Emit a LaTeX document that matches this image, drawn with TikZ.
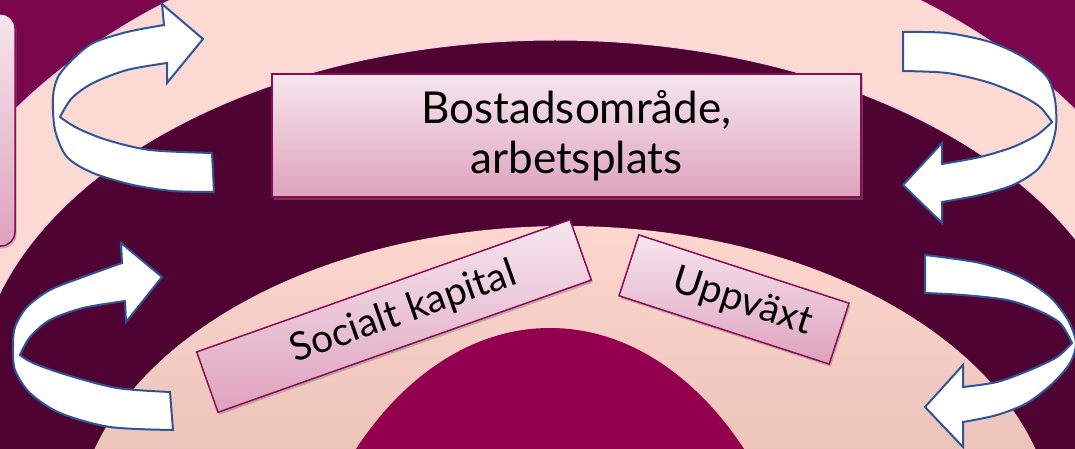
\documentclass[tikz,border=0pt]{standalone}
\usepackage{fontspec}
\setmainfont{Lato}
\usetikzlibrary{shadows}

\definecolor{cornerpurple}{RGB}{122,6,76}
\definecolor{bandpink}{RGB}{253,217,211}
\definecolor{plum}{RGB}{79,3,51}
\definecolor{innerpinktop}{RGB}{253,214,206}
\definecolor{innerpinkbot}{RGB}{236,196,186}
\definecolor{coremagenta}{RGB}{146,0,78}
\definecolor{rimline}{RGB}{247,208,236}
\definecolor{boxtop}{RGB}{246,230,237}
\definecolor{boxbot}{RGB}{222,162,189}
\definecolor{boxedge}{RGB}{142,10,87}
\definecolor{arrowedge}{RGB}{47,85,151}

\begin{document}
\begin{tikzpicture}[x=1pt, y=-1pt,
  labelbox/.style={draw=boxedge, line width=1.5pt, top color=boxtop, bottom color=boxbot,
    inner sep=0pt, align=center,
    drop shadow={shadow xshift=1.5pt, shadow yshift=-2.5pt, opacity=.45}},
  twistarrow/.style={draw=arrowedge, fill=white, line width=2pt}]
\useasboundingbox (0,0) rectangle (1075,449);
\clip (0,0) rectangle (1075,449);

% concentric background rings
\fill[cornerpurple] (0,0) rectangle (1075,449);
\fill[bandpink, draw=rimline, line width=1.2pt] (545,397) ellipse [x radius=660, y radius=482];
\fill[plum, draw=rimline, line width=1pt] (555,397) ellipse [x radius=580, y radius=357];
\begin{scope}
  \clip (565,536) ellipse [x radius=490, y radius=310];
  \shade[top color=innerpinktop, bottom color=innerpinkbot] (0,226) rectangle (1075,449);
\end{scope}
\fill[coremagenta] (550,725) ellipse [x radius=270, y radius=397];

% twisted arrows on the left
\draw[twistarrow]
  plot[smooth] coordinates {(212,153) (150,150) (107,140) (77,128) (60,117)}
  -- plot[smooth] coordinates {(60,117) (72,98) (93,83) (127,70) (167,63)}
  -- (167,83) -- (203,39) -- (162,4) -- (164,25)
  -- plot[smooth] coordinates {(164,25) (127,32) (93,43) (72,60) (58,77) (53,97) (55,130) (67,157) (93,173) (133,185) (173,191) (214,192)}
  -- cycle;
\draw[twistarrow]
  plot[smooth] coordinates {(170,392) (117,388) (67,375) (33,363) (20,355)}
  -- plot[smooth] coordinates {(20,355) (30,337) (50,320) (83,308) (125,301)}
  -- (126,322) -- (162,277) -- (121,243) -- (122,263)
  -- plot[smooth] coordinates {(122,263) (83,277) (50,290) (27,307) (15,327) (13,347) (15,370) (30,393) (60,413) (110,427) (173,430)}
  -- cycle;

% twisted arrows on the right
\draw[twistarrow]
  plot[smooth] coordinates {(903,32) (947,33) (990,42) (1023,57) (1047,77) (1055,100) (1056,127) (1050,150) (1037,170) (1013,185) (980,195) (942,202)}
  -- (942,223) -- (903,185) -- (942,143) -- (942,164)
  -- plot[smooth] coordinates {(942,164) (980,157) (1013,147) (1037,135) (1052,122)}
  -- plot[smooth] coordinates {(1052,122) (1040,107) (1020,95) (987,82) (947,73) (903,71)}
  -- cycle;
\draw[twistarrow]
  plot[smooth] coordinates {(925,255) (980,263) (1020,277) (1050,297) (1068,320) (1076,343) (1070,363) (1053,383) (1027,403) (997,415) (963,422)}
  -- (963,447) -- (925,407) -- (963,365) -- (963,387)
  -- plot[smooth] coordinates {(963,387) (997,382) (1030,370) (1057,357) (1072,343)}
  -- plot[smooth] coordinates {(1072,343) (1060,323) (1037,310) (1007,300) (963,295) (925,293)}
  -- cycle;

% labelled boxes
\node[labelbox, rounded corners=14pt, minimum width=80pt, minimum height=232pt] (sidebox) at (-25,130) {};
\node[labelbox, minimum width=589pt, minimum height=123pt, font=\fontsize{44}{50}\selectfont]
  (home) at (566.5,135.5) {\hspace*{20pt}Bostadsområde,\\\hspace*{20pt}arbetsplats};
\node[labelbox, rotate=19.5, minimum width=396pt, minimum height=64pt, font=\fontsize{39}{46}\selectfont]
  (social) at (394,316) {\hspace*{20pt}Socialt kapital};
\node[labelbox, rotate=-18, minimum width=221pt, minimum height=64pt, font=\fontsize{39}{46}\selectfont]
  (growth) at (734,299.5) {\hspace*{18pt}Uppväxt};
\end{tikzpicture}
\end{document}
